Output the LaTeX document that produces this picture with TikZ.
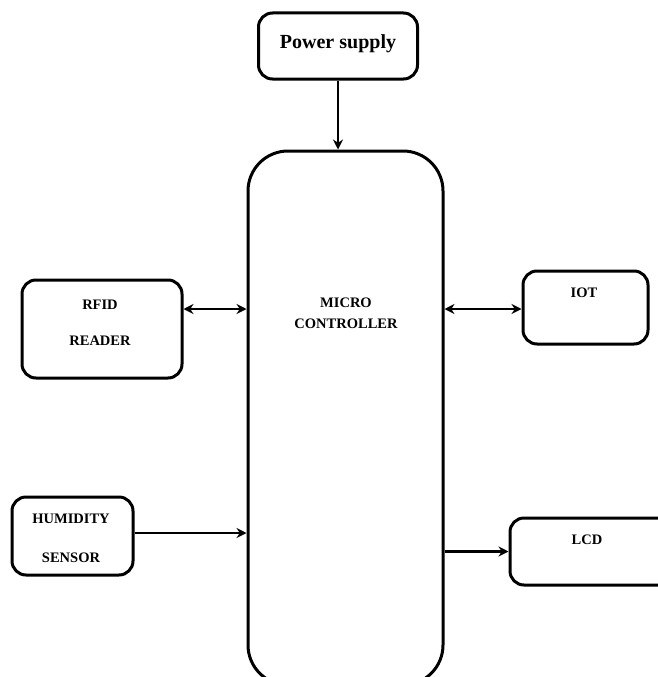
\documentclass[tikz,border=0pt]{standalone}
\usepackage{fontspec}
\setmainfont{Liberation Serif}
\usetikzlibrary{arrows.meta}

\begin{document}
\begin{tikzpicture}[
x=1pt, y=-1pt,
blockbox/.style={
    draw,
    line width=3pt,
    rounded corners=14pt,
    inner sep=0pt
},
blocktext/.style={
    font=\bfseries\fontsize{14.5}{36}\selectfont,
    align=center,
    inner sep=0pt
},
link/.style={
    line width=2.4pt,
    -{Stealth[length=10pt,width=10pt]}
},
biglink/.style={
    line width=2.4pt,
    {Stealth[length=10pt,width=10pt]}-{Stealth[length=10pt,width=10pt]}
}
]
\useasboundingbox (0,0) rectangle (658,677);

%---------------- Blocks ----------------
\node[blockbox, minimum width=159pt, minimum height=66pt] (power) at (338,46) {};
\node[blockbox, rounded corners=40pt, minimum width=195pt, minimum height=534pt] (micro) at (345.5,418) {};
\node[blockbox, minimum width=160pt, minimum height=98pt] (rfid) at (102,329) {};
\node[blockbox, minimum width=125pt, minimum height=73pt] (iot) at (585.5,307.5) {};
\node[blockbox, minimum width=121pt, minimum height=78pt] (humidity) at (72.5,536) {};
\node[blockbox, minimum width=180pt, minimum height=67pt] (lcd) at (600,551.5) {};

%---------------- Labels ----------------
\node[blocktext, font=\bfseries\fontsize{20}{24}\selectfont] (powertxt) at (338,44) {Power supply};
\node[blocktext, font=\bfseries\fontsize{14.5}{21}\selectfont] (microtxt) at (346,313) {MICRO\\CONTROLLER};
\node[blocktext] (rfidtxt) at (100,323) {RFID\\READER};
\node[blocktext, font=\bfseries\fontsize{14.5}{39}\selectfont] (humiditytxt) at (71,538) {HUMIDITY\\SENSOR};
\node[blocktext] (iottxt) at (584,293) {IOT};
\node[blocktext] (lcdtxt) at (587,540) {LCD};

%---------------- Connectors ----------------
\draw[link] (power.south) -- (power.south |- micro.north);
\draw[biglink] ([yshift=20pt]rfid.east) -- ([yshift=20pt]rfid.east -| micro.west);
\draw[biglink] ([yshift=-1.5pt]iot.west -| micro.east) -- ([yshift=-1.5pt]iot.west);
\draw[link] ([yshift=3pt]humidity.east) -- ([yshift=3pt]humidity.east -| micro.west);
\draw[link] (lcd.west -| micro.east) -- (lcd.west);

\end{tikzpicture}
\end{document}
